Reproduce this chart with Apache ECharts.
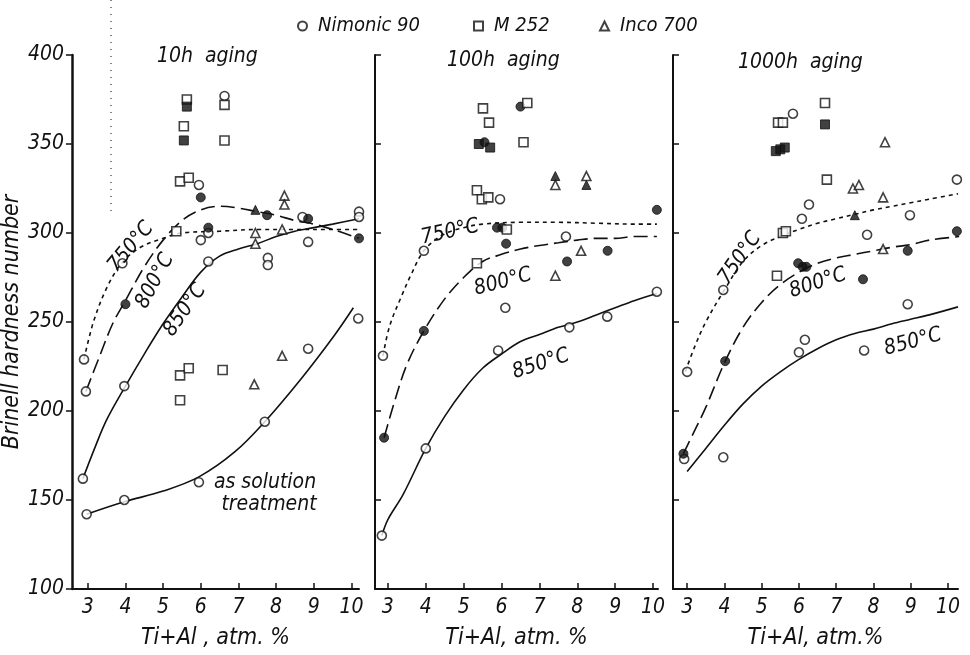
<!DOCTYPE html>
<html><head><meta charset="utf-8">
<script src="https://cdn.jsdelivr.net/npm/echarts@6/dist/echarts.min.js"></script>
<style>html,body{margin:0;padding:0;background:#fff}#c{width:970px;height:655px}</style>
</head><body><div id="c"></div>
<script>
// ---------- labels ----------
const xTicks = [3, 4, 5, 6, 7, 8, 9, 10];
const panelTitles = ['10h  aging', '100h  aging', '1000h  aging'];
const xAxisNames = ['Ti+Al , atm. %', 'Ti+Al, atm. %', 'Ti+Al, atm.%'];
const yAxisName = 'Brinell hardness number';
const materials = ['Nimonic 90', 'M 252', 'Inco 700'];

// ---------- 10 h aging: measured points [Ti+Al, HB] ----------
const openCircle10 = [[2.9,229],[2.95,211],[2.87,162],[2.97,142],[3.92,283],[3.97,214],[3.97,150],
  [5.95,327],[6.0,296],[6.2,300],[6.2,284],[5.95,160],[6.63,377],[7.78,286],[7.78,282],[7.7,194],
  [8.7,309],[8.85,295],[8.85,235],[10.2,312],[10.2,309],[10.18,252]];
const filledCircle10 = [[4.0,260],[6.0,320],[6.2,303],[7.76,310],[8.85,308],[10.2,297]];
const openSquare10 = [[5.63,375],[5.55,360],[6.63,372],[6.63,352],[5.45,329],[5.68,331],[5.35,301],
  [5.45,206],[5.45,220],[5.68,224],[6.58,223]];
const filledSquare10 = [[5.63,371],[5.55,352]];
const openTriangle10 = [[7.45,300],[7.45,294],[8.22,321],[8.22,316],[8.16,302],[7.42,215],[8.16,231]];
const filledTriangle10 = [[7.45,313]];

// ---------- 100 h aging ----------
const openCircle100 = [[2.87,231],[2.84,130],[3.95,290],[4.0,179],[5.96,319],[6.1,258],[5.91,234],
  [7.7,298],[7.79,247],[8.79,253],[10.17,308],[10.1,267]];
const filledCircle100 = [[2.9,185],[3.95,245],[5.55,351],[5.88,303],[6.02,303],[6.12,294],[6.5,371],
  [7.73,284],[8.8,290],[10.1,313]];
const openSquare100 = [[5.51,370],[5.67,362],[6.68,373],[6.58,351],[5.35,324],[5.48,319],[5.65,320],
  [6.14,302],[5.35,283]];
const filledSquare100 = [[5.4,350],[5.7,348]];
const openTriangle100 = [[7.42,327],[8.24,332],[8.1,290],[7.42,276]];
const filledTriangle100 = [[7.42,332],[8.24,327]];

// ---------- 1000 h aging ----------
const openCircle1000 = [[3.0,222],[2.92,173],[3.97,268],[3.97,174],[5.84,367],[6.27,316],[6.08,308],
  [6.0,233],[6.16,240],[7.83,299],[7.75,234],[8.98,310],[8.92,260],[10.24,330],[10.3,253]];
const filledCircle1000 = [[2.9,176],[4.02,228],[5.98,283],[6.1,281],[6.2,281],[7.72,274],[8.92,290],[10.24,301]];
const openSquare1000 = [[6.7,373],[5.44,362],[5.57,362],[6.75,330],[5.57,300],[5.65,301],[5.41,276]];
const filledSquare1000 = [[6.7,361],[5.38,346],[5.5,347],[5.62,348]];
const openTriangle1000 = [[8.31,351],[7.45,325],[7.61,327],[8.26,320],[8.26,291]];
const filledTriangle1000 = [[7.5,310]];

// ---------- fitted curves ----------
const c750_10 = [[2.9,229],[3.15,250],[3.5,269],[3.9,283],[4.4,292],[5.0,297],[5.5,300],[6.5,301],[7.5,302],[8.5,302],[9.5,302],[10.2,302]];
const c800_10 = [[2.95,211],[3.3,230],[3.66,249],[4.0,262],[4.5,281],[5.0,296],[5.5,307],[6.0,313],[6.5,315],[7.0,314],[7.5,312],[8.0,310],[8.5,307],[9.0,305],[9.5,302],[10.2,297]];
const c850_10 = [[2.87,162],[3.2,180],[3.5,195],[4.0,214],[4.5,232],[5.0,249],[5.5,264],[6.0,278],[6.5,287],[7.0,291],[7.5,294],[8.0,298],[8.5,301],[9.0,303],[9.5,305],[10.2,308]];
const cSolution_10 = [[2.97,142],[3.97,149],[5.0,155],[5.95,163],[6.9,177],[7.7,194],[8.66,218],[9.53,242],[10.05,258]];

const c750_100 = [[2.87,231],[3.05,248],[3.37,265],[3.6,276],[3.95,290],[4.45,299],[5.0,303],[5.5,305],[6.5,306],[7.5,306],[8.5,305.5],[9.5,305],[10.1,305]];
const c800_100 = [[2.9,185],[3.2,207],[3.5,226],[3.95,245],[4.5,263],[5.0,275],[5.5,284],[6.0,288],[6.5,291],[7.0,293],[7.5,294.5],[8.0,296],[8.5,297],[9.0,297],[9.5,298],[10.1,298]];
const c850_100 = [[2.84,130],[3.0,139],[3.4,153],[4.0,179],[4.5,197],[5.0,212],[5.5,224],[6.0,232],[6.5,239],[7.0,243],[7.5,247],[8.0,250],[8.5,254],[9.0,258],[9.5,262],[10.1,266]];

const c750_1000 = [[2.95,222],[3.2,236],[3.5,250],[4.0,268],[4.5,284],[5.0,293],[5.5,298],[6.0,302],[6.5,305.5],[7.0,308],[7.5,310.5],[8.0,313],[8.5,315],[9.0,317],[9.5,319],[10.27,322]];
const c800_1000 = [[2.9,176],[3.2,189],[3.5,202],[4.0,227],[4.5,247],[5.0,261],[5.5,271],[6.0,278],[6.5,283],[7.0,286],[7.5,288],[8.0,290],[8.5,292],[9.0,293.5],[9.5,296],[10.3,298]];
const c850_1000 = [[3.0,166],[3.5,179],[4.0,192],[4.5,204],[5.0,214],[5.5,222],[6.0,229],[6.5,235],[7.0,240],[7.5,243.5],[8.0,246],[8.5,249],[9.0,251.5],[9.5,254],[10.27,258.5]];

// ---------- build ----------
const FONT = "'Liberation Sans Narrow','DejaVu Sans Condensed','DejaVu Sans',sans-serif";
const INK = '#111';
const panels = [
  {oc: openCircle10, fc: filledCircle10, os: openSquare10, fs: filledSquare10, ot: openTriangle10, ft: filledTriangle10,
   curves: [[c750_10,[4,4]],[c800_10,[14,6]],[c850_10,'solid'],[cSolution_10,'solid']]},
  {oc: openCircle100, fc: filledCircle100, os: openSquare100, fs: filledSquare100, ot: openTriangle100, ft: filledTriangle100,
   curves: [[c750_100,[4,4]],[c800_100,[14,6]],[c850_100,'solid']]},
  {oc: openCircle1000, fc: filledCircle1000, os: openSquare1000, fs: filledSquare1000, ot: openTriangle1000, ft: filledTriangle1000,
   curves: [[c750_1000,[4,4]],[c800_1000,[14,6]],[c850_1000,'solid']]}
];
const gridBoxes = [{left:69,width:290},{left:375,width:283},{left:673,width:285}];
const xRanges = [[2.58,10.2],[2.66,10.13],[2.62,10.27]];

const grids = gridBoxes.map(g => ({left:g.left, width:g.width, top:55, height:548}));
const xAxes = xRanges.map((r,i) => ({
  type:'value', gridIndex:i, min:r[0], max:r[1],
  name: xAxisNames[i], nameLocation:'middle', nameGap:38,
  nameTextStyle:{fontFamily:FONT, fontStyle:'italic', fontSize:23, color:INK},
  axisLine:{show:true, onZero:false, lineStyle:{color:INK, width:2}},
  axisTick:{show:true, inside:true, length:6, customValues:xTicks, lineStyle:{color:INK, width:1.5}},
  axisLabel:{show:true, customValues:xTicks, fontFamily:FONT, fontStyle:'italic', fontSize:21, color:INK, margin:8},
  splitLine:{show:false}
}));
const yAxes = [0,1,2].map(i => ({
  type:'value', gridIndex:i, min:100, max:400, interval:50,
  name: i===0 ? yAxisName : '', nameLocation:'middle', nameGap:47, nameRotate:90,
  nameTextStyle:{fontFamily:FONT, fontStyle:'italic', fontSize:23, color:INK},
  axisLine:{show:true, onZero:false, lineStyle:{color:INK, width: i===0 ? 2.5 : 2}},
  axisTick:{show:true, inside: i!==0, length:6, lineStyle:{color:INK, width:1.5}},
  axisLabel:{show: i===0, fontFamily:FONT, fontStyle:'italic', fontSize:21, color:INK, margin:8},
  splitLine:{show:false}
}));

const series = [];
const openStyle = {color:'#fff', borderColor:INK, borderWidth:1.6};
const fillStyle = {color:INK, borderColor:INK, borderWidth:1};
panels.forEach((p,i) => {
  p.curves.forEach(([pts,dash]) => series.push({
    type:'line', xAxisIndex:i, yAxisIndex:i, data:pts, smooth:0.35, symbol:'none', silent:true, z:2,
    lineStyle:{color:INK, width:1.6, type:dash}
  }));
  const sc = (name, data, symbol, size, style) => series.push({
    name, type:'scatter', xAxisIndex:i, yAxisIndex:i, data, symbol, symbolSize:size, itemStyle:style, z:5
  });
  sc(materials[0], p.oc, 'circle', 9, openStyle);
  sc(materials[0]+' (filled)', p.fc, 'circle', 9, fillStyle);
  sc(materials[1], p.os, 'rect', 9, openStyle);
  sc(materials[1]+' (filled)', p.fs, 'rect', 9, fillStyle);
  sc(materials[2], p.ot, 'triangle', 9, openStyle);
  sc(materials[2]+' (filled)', p.ft, 'triangle', 9, fillStyle);
});

const legTxt = {fontFamily:FONT, fontStyle:'italic', fontSize:20, color:INK, padding:[0,0,0,6]};
const legends = [[materials[0],292],[materials[1],468],[materials[2],594]].map(([n,l]) => ({
  data:[n], left:l, top:11, itemWidth:9, itemHeight:9, selectedMode:false, textStyle:legTxt
}));

const titles = [[panelTitles[0],157,46],[panelTitles[1],447,50],[panelTitles[2],738,52]].map(([t,l,tp]) => ({
  text:t, left:l, top:tp, padding:0,
  textStyle:{fontFamily:FONT, fontStyle:'italic', fontWeight:'normal', fontSize:21, color:INK}
}));

const lab = (text, x, y, deg) => ({
  type:'text', x, y, rotation: deg*Math.PI/180, z:10,
  style:{text, fontFamily:FONT, fontStyle:'italic', fontSize:21, fill:INK, align:'center', verticalAlign:'middle'}
});
const graphics = [
  lab('750°C',131,247,50), lab('800°C',155,281,62), lab('850°C',185,310,55),
  lab('as solution',265,483,0), lab('treatment',269,505,0),
  lab('750°C',450,232,12), lab('800°C',503,282,15), lab('850°C',541,364,18),
  lab('750°C',740,258,55), lab('800°C',818,283,18), lab('850°C',913,342,15),
  {type:'line', shape:{x1:111,y1:0,x2:111,y2:214}, style:{stroke:'#444', lineWidth:1.3, lineDash:[1,6]}, silent:true}
];

const chart = echarts.init(document.getElementById('c'), null, {renderer:'canvas'});
chart.setOption({
  backgroundColor:'#fff', animation:false,
  title: titles, legend: legends, grid: grids, xAxis: xAxes, yAxis: yAxes,
  series, graphic: graphics
});
</script></body></html>
